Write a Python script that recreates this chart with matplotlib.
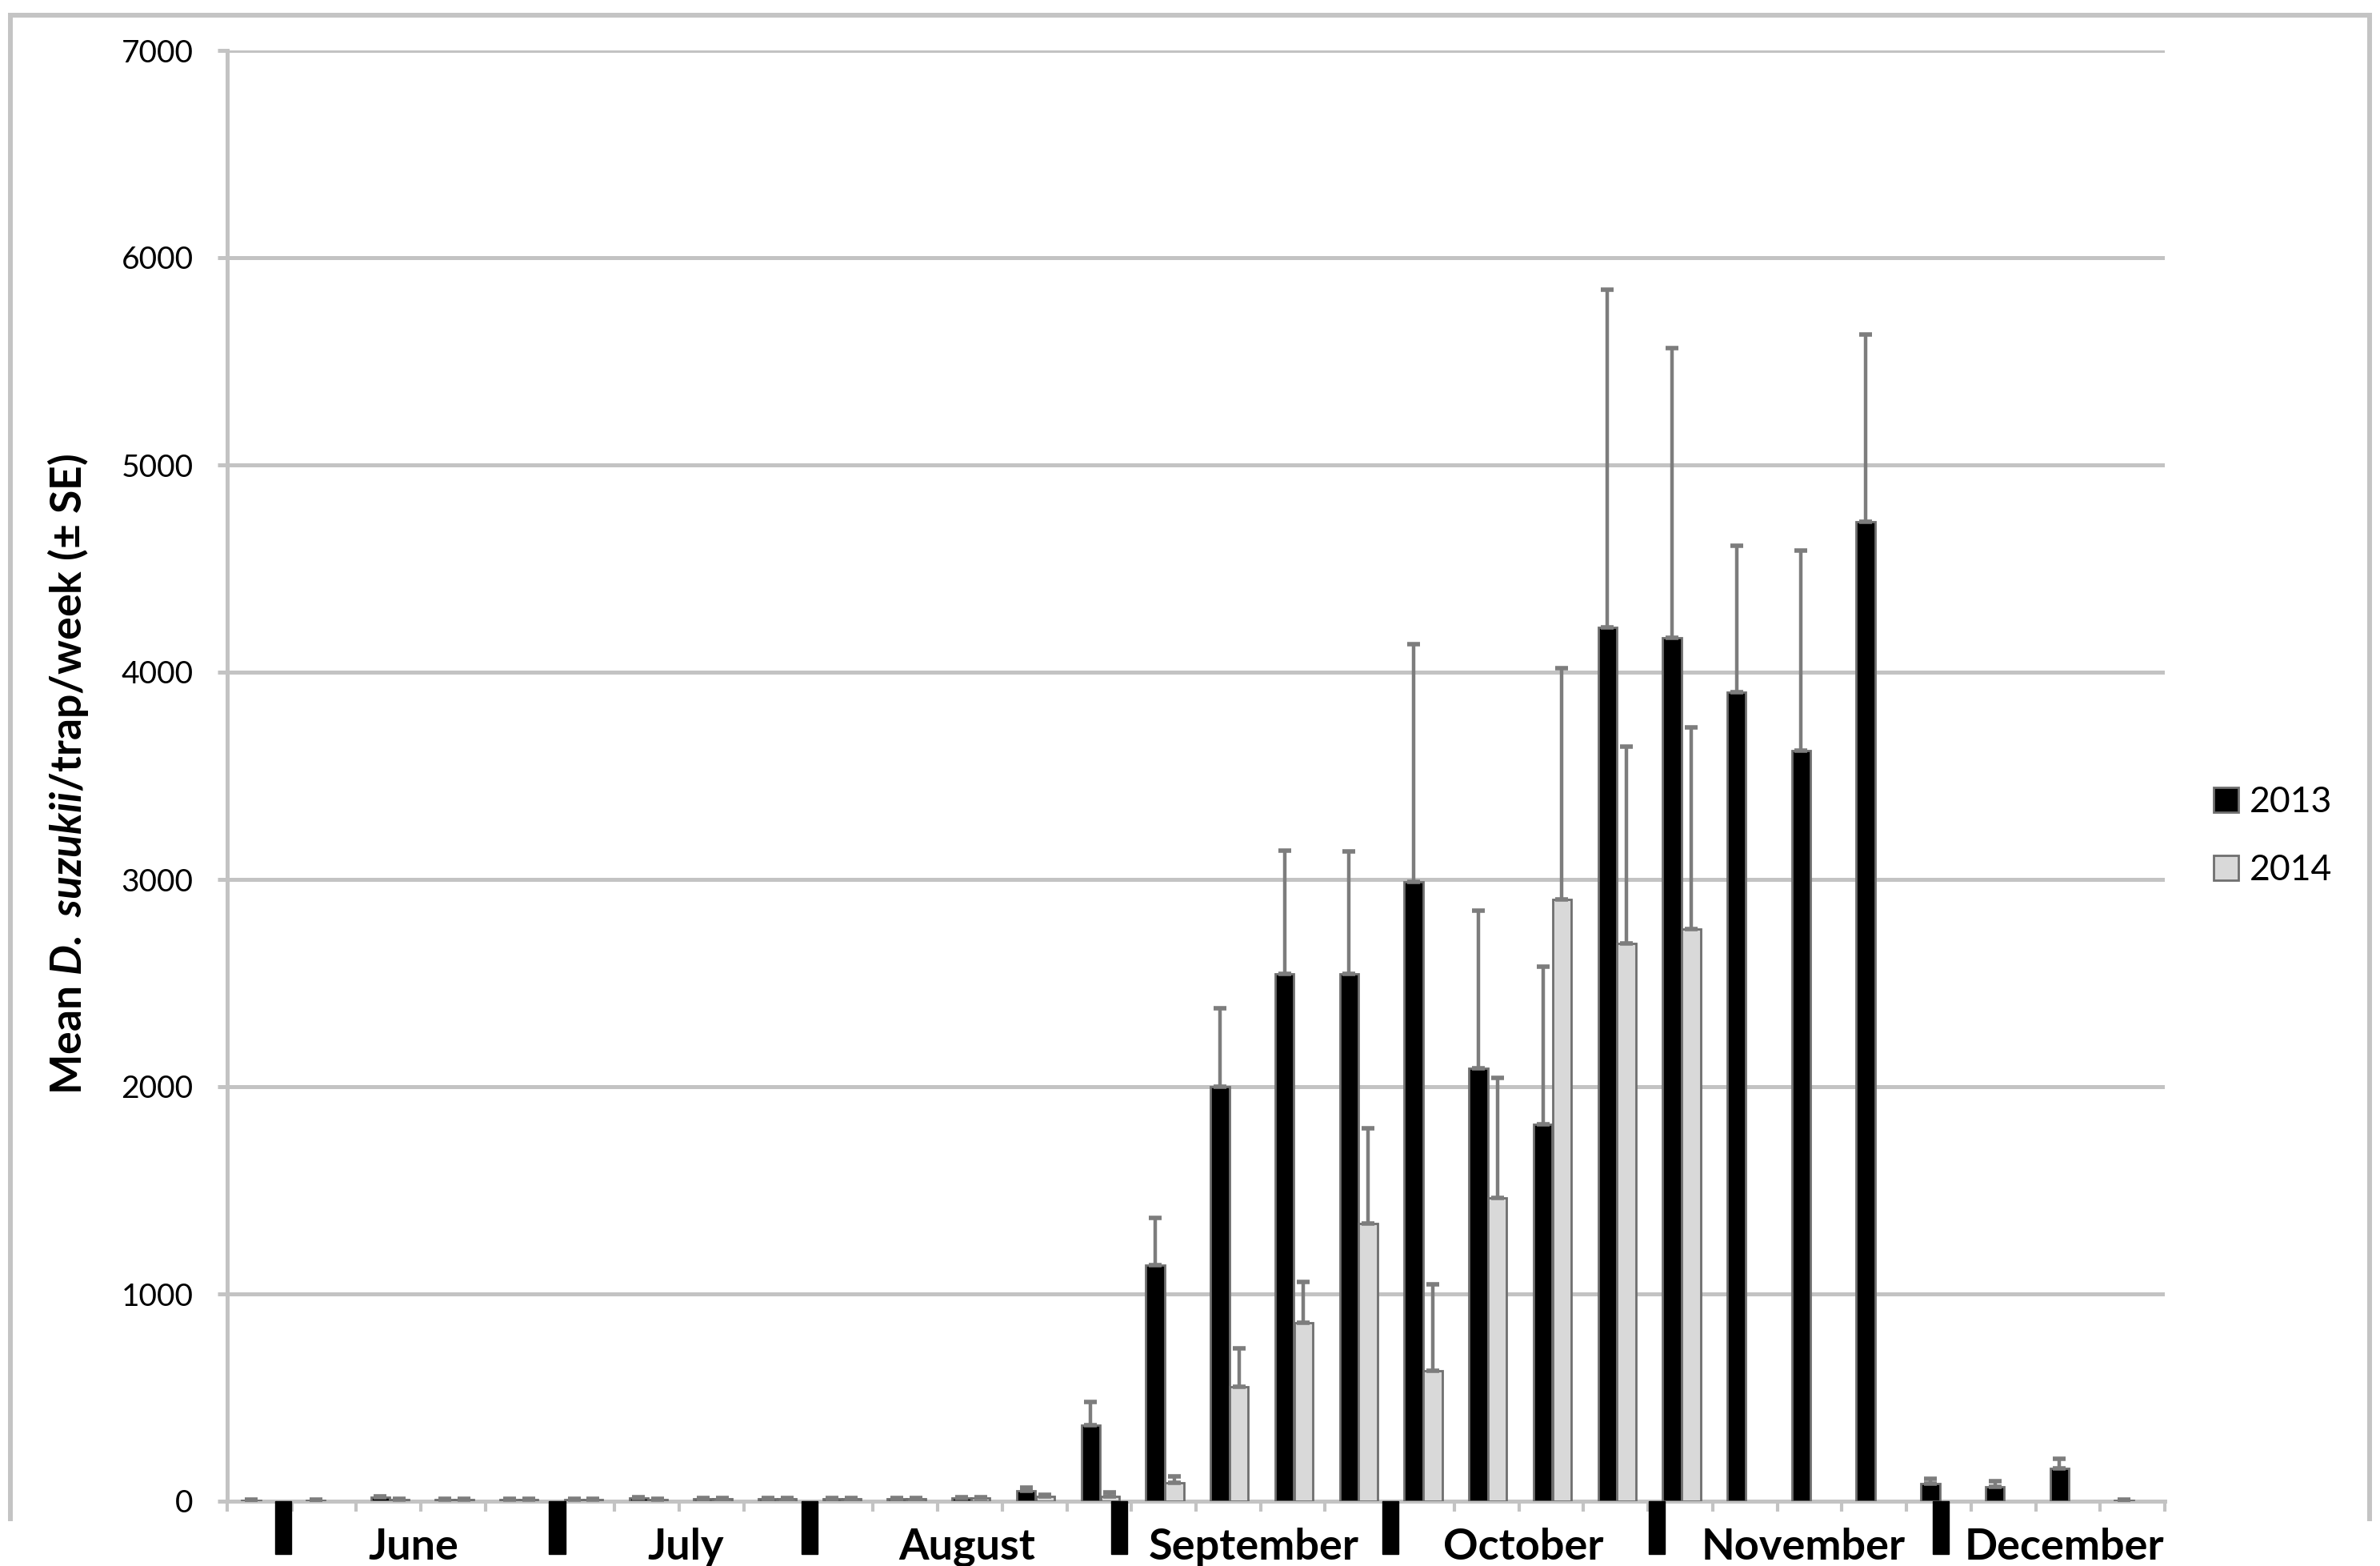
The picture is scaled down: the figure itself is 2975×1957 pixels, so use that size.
import numpy as np
import matplotlib
matplotlib.use('Agg')
import matplotlib.pyplot as plt
from matplotlib.patches import Rectangle, Patch
from matplotlib.lines import Line2D

plt.rcParams['font.family'] = ['Lato', 'DejaVu Sans']
plt.rcParams['mathtext.fontset'] = 'custom'
plt.rcParams['mathtext.rm'] = 'Lato:bold'
plt.rcParams['mathtext.it'] = 'Lato:bold:italic'
plt.rcParams['mathtext.bf'] = 'Lato:bold'
try:
    plt.rcParams['mathtext.bfit'] = 'Lato:bold:italic'
    ylab = r'Mean $\mathbfit{D.\ suzukii}$/trap/week (± SE)'
except KeyError:
    ylab = r'Mean $\mathit{D.\ suzukii}$/trap/week (± SE)'

# weekly trap catches, 30 weeks June-December
y2013 = [5, 5, 18, 8, 8, 8, 15, 12, 12, 12, 12, 15, 50, 365, 1140, 2000, 2545, 2545,
         2990, 2090, 1820, 4215, 4165, 3905, 3620, 4725, 85, 70, 160, 5]
se2013 = [3, 3, 5, 3, 3, 3, 4, 4, 4, 4, 4, 5, 15, 115, 225, 380, 595, 590,
          1145, 760, 760, 1630, 1400, 705, 965, 905, 25, 25, 45, 2]
y2014 = [np.nan, np.nan, 8, 8, 8, 8, 8, 12, 12, 12, 12, 15, 22, 25, 90, 552, 862, 1340,
         630, 1462, 2905, 2690, 2760, np.nan, np.nan, np.nan, np.nan, np.nan, np.nan, np.nan]
se2014 = [0, 0, 3, 3, 3, 3, 3, 4, 4, 4, 4, 5, 10, 18, 30, 185, 195, 460,
          415, 580, 1115, 950, 975, 0, 0, 0, 0, 0, 0, 0]

months = ['June', 'July', 'August', 'September', 'October', 'November', 'December']
month_pos = [2.39, 6.6, 10.96, 15.4, 19.57, 23.9, 27.95]
month_breaks = [0.37, 4.61, 8.52, 13.31, 17.51, 21.63, 26.03]

W, H = 2975, 1957
fig = plt.figure(figsize=(W / 100, H / 100), dpi=100)
ax = fig.add_axes([284 / W, 1 - 1876 / H, (2706 - 284) / W, (1876 - 63) / H])

grid_c = '#c3c3c3'
x = np.arange(len(y2013))
bw = 0.29
ekw = dict(ecolor='#7d7d7d', elinewidth=3.2, capsize=6, capthick=4)
ax.bar(x - 0.13, y2013, bw, color='black', edgecolor='#6f6f6f', linewidth=2,
       yerr=[np.zeros(len(se2013)), se2013], error_kw=ekw, zorder=3)
ax.bar(x + 0.165, y2014, bw, color='#d9d9d9', edgecolor='#6f6f6f', linewidth=2,
       yerr=[np.zeros(len(se2014)), se2014], error_kw=ekw, zorder=3)

ax.set_xlim(-0.5, len(x) - 0.5)
ax.set_ylim(0, 7000)
ax.set_yticks(np.arange(0, 7001, 1000))
ax.yaxis.grid(True, color=grid_c, linewidth=3.6, zorder=0)
ax.set_axisbelow(True)
ax.set_xticks(np.arange(-0.5, len(x)), labels=[])
ax.tick_params(axis='x', length=9.4, width=3, color=grid_c)
ax.tick_params(axis='y', length=8.6, width=3.6, color=grid_c, labelsize=28, pad=22)
for s in ['top', 'right']:
    ax.spines[s].set_visible(False)
for s in ['left', 'bottom']:
    ax.spines[s].set_color(grid_c)
    ax.spines[s].set_linewidth(3.6)

fig.text(85 / W, 1 - 968 / H, ylab, rotation=90, ha='center', va='center',
         fontsize=38.5, fontweight='bold')

trans = ax.get_xaxis_transform()
for b in month_breaks:
    ax.add_patch(Rectangle((b - 0.125, -0.0364), 0.25, 0.0364, transform=trans,
                           clip_on=False, color='black', zorder=5))
for m, p in zip(months, month_pos):
    ax.text(p, -0.0315, m, transform=trans, ha='center', va='center',
            fontsize=39, fontweight='bold')

handles = [Patch(facecolor='black', edgecolor='#6f6f6f', linewidth=2),
           Patch(facecolor='#d9d9d9', edgecolor='#6f6f6f', linewidth=2)]
fig.legend(handles, ['2013', '2014'], loc='center left', bbox_to_anchor=(2727 / W, 1 - 1045 / H),
           frameon=False, fontsize=32, handlelength=0.7, handleheight=0.7,
           handletextpad=0.3, labelspacing=1.0)

# outer chart frame
fc = '#c4c4c4'
fig.add_artist(Line2D([13 / W, 13 / W], [1 - 1898 / H, 1 - 19 / H], color=fc, lw=4.3))
fig.add_artist(Line2D([13 / W, 2962 / W], [1 - 19 / H, 1 - 19 / H], color=fc, lw=4.3))
fig.add_artist(Line2D([2962 / W, 2962 / W], [1 - 1898 / H, 1 - 19 / H], color=fc, lw=4.3))

fig.savefig('out.png', dpi=100)
